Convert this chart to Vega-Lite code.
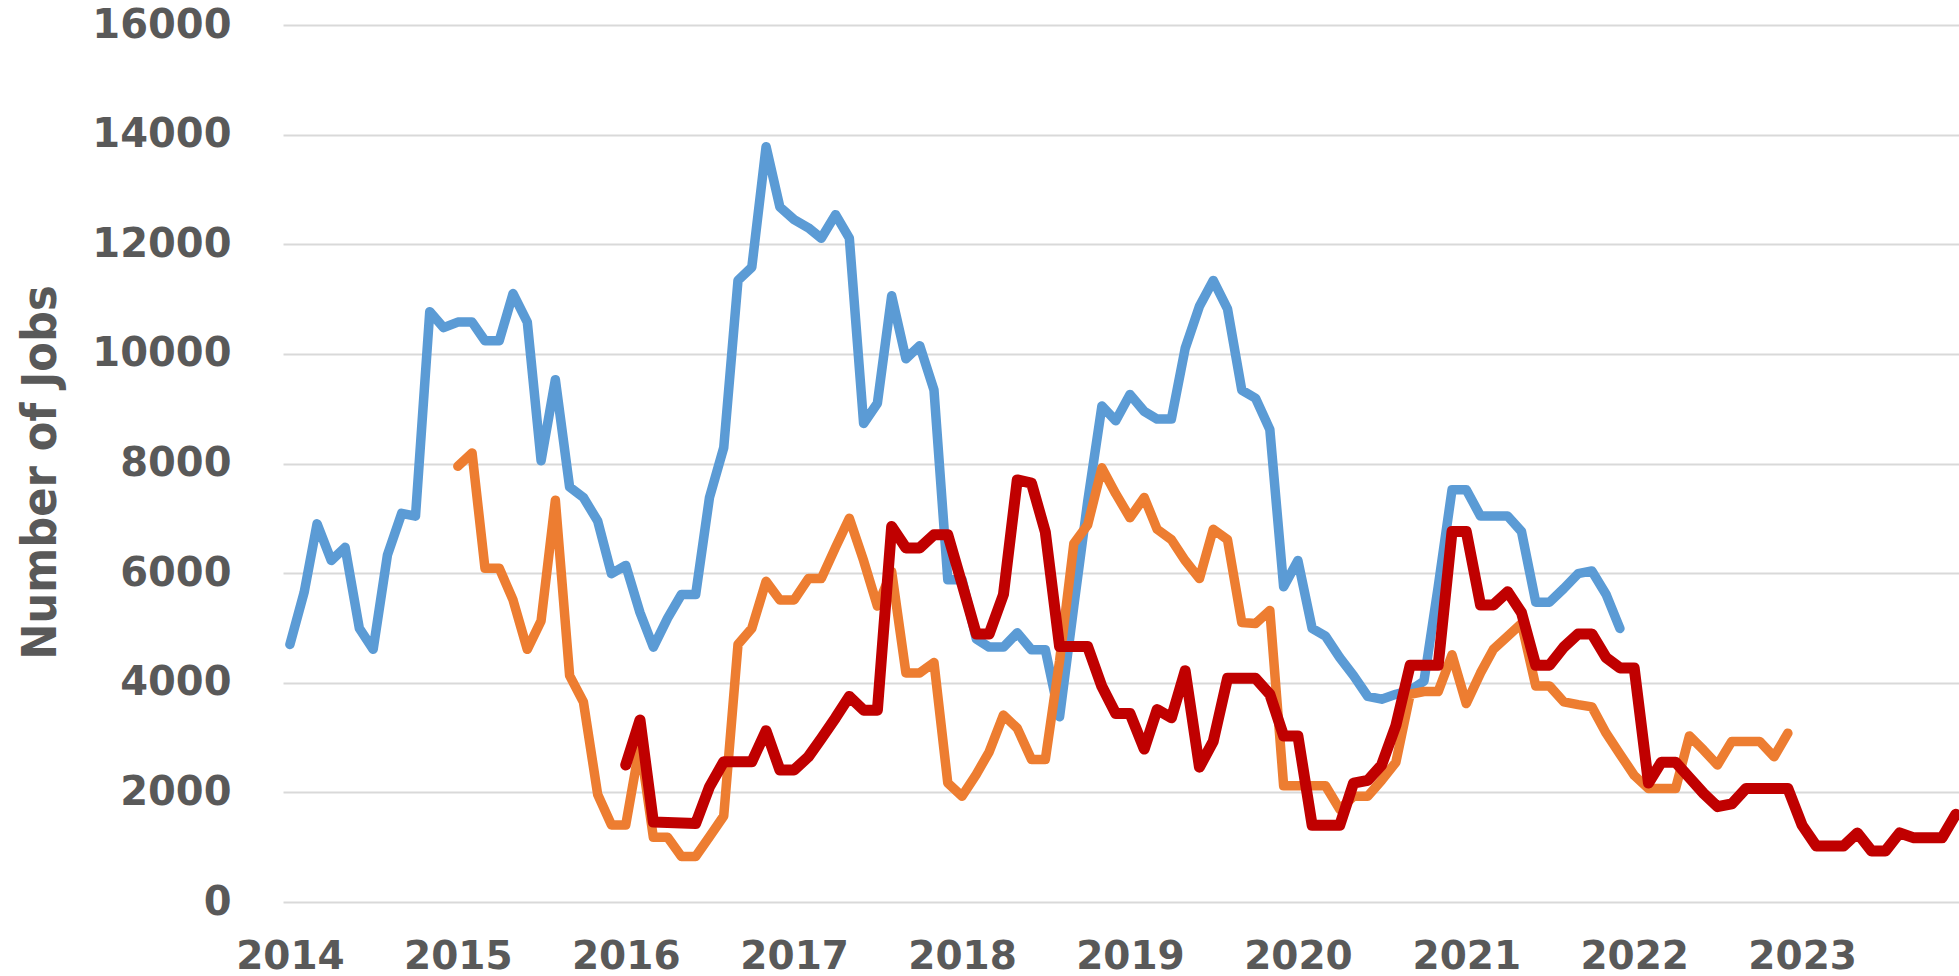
{
  "$schema": "https://vega.github.io/schema/vega-lite/v6.json",
  "width": 1676,
  "height": 877,
  "autosize": {"type": "none"},
  "padding": {"left": 283, "top": 25, "right": 0, "bottom": 74},
  "background": "white",
  "config": {"view": {"stroke": null}},
  "datasets": {
    "blue": [
      {"date": "2014-01-01", "jobs": 4700}, {"date": "2014-02-01", "jobs": 5650}, {"date": "2014-03-01", "jobs": 6900}, {"date": "2014-04-01", "jobs": 6230}, {"date": "2014-05-01", "jobs": 6470}, {"date": "2014-06-01", "jobs": 4990}, {"date": "2014-07-01", "jobs": 4610}, {"date": "2014-08-01", "jobs": 6330}, {"date": "2014-09-01", "jobs": 7090}, {"date": "2014-10-01", "jobs": 7040}, {"date": "2014-11-01", "jobs": 10770}, {"date": "2014-12-01", "jobs": 10480},
      {"date": "2015-01-01", "jobs": 10580}, {"date": "2015-02-01", "jobs": 10580}, {"date": "2015-03-01", "jobs": 10240}, {"date": "2015-04-01", "jobs": 10240}, {"date": "2015-05-01", "jobs": 11100}, {"date": "2015-06-01", "jobs": 10580}, {"date": "2015-07-01", "jobs": 8050}, {"date": "2015-08-01", "jobs": 9530}, {"date": "2015-09-01", "jobs": 7570}, {"date": "2015-10-01", "jobs": 7380}, {"date": "2015-11-01", "jobs": 6950}, {"date": "2015-12-01", "jobs": 5990},
      {"date": "2016-01-01", "jobs": 6140}, {"date": "2016-02-01", "jobs": 5280}, {"date": "2016-03-01", "jobs": 4650}, {"date": "2016-04-01", "jobs": 5180}, {"date": "2016-05-01", "jobs": 5610}, {"date": "2016-06-01", "jobs": 5610}, {"date": "2016-07-01", "jobs": 7380}, {"date": "2016-08-01", "jobs": 8290}, {"date": "2016-09-01", "jobs": 11340}, {"date": "2016-10-01", "jobs": 11580}, {"date": "2016-11-01", "jobs": 13780}, {"date": "2016-12-01", "jobs": 12680},
      {"date": "2017-01-01", "jobs": 12450}, {"date": "2017-02-01", "jobs": 12300}, {"date": "2017-03-01", "jobs": 12110}, {"date": "2017-04-01", "jobs": 12540}, {"date": "2017-05-01", "jobs": 12110}, {"date": "2017-06-01", "jobs": 8730}, {"date": "2017-07-01", "jobs": 9100}, {"date": "2017-08-01", "jobs": 11060}, {"date": "2017-09-01", "jobs": 9910}, {"date": "2017-10-01", "jobs": 10150}, {"date": "2017-11-01", "jobs": 9340}, {"date": "2017-12-01", "jobs": 5880},
      {"date": "2018-01-01", "jobs": 5880}, {"date": "2018-02-01", "jobs": 4800}, {"date": "2018-03-01", "jobs": 4650}, {"date": "2018-04-01", "jobs": 4650}, {"date": "2018-05-01", "jobs": 4910}, {"date": "2018-06-01", "jobs": 4600}, {"date": "2018-07-01", "jobs": 4600}, {"date": "2018-08-01", "jobs": 3380}, {"date": "2018-09-01", "jobs": 5400}, {"date": "2018-10-01", "jobs": 7300}, {"date": "2018-11-01", "jobs": 9050}, {"date": "2018-12-01", "jobs": 8780},
      {"date": "2019-01-01", "jobs": 9260}, {"date": "2019-02-01", "jobs": 8950}, {"date": "2019-03-01", "jobs": 8810}, {"date": "2019-04-01", "jobs": 8810}, {"date": "2019-05-01", "jobs": 10100}, {"date": "2019-06-01", "jobs": 10870}, {"date": "2019-07-01", "jobs": 11340}, {"date": "2019-08-01", "jobs": 10820}, {"date": "2019-09-01", "jobs": 9340}, {"date": "2019-10-01", "jobs": 9190}, {"date": "2019-11-01", "jobs": 8620}, {"date": "2019-12-01", "jobs": 5750},
      {"date": "2020-01-01", "jobs": 6230}, {"date": "2020-02-01", "jobs": 4990}, {"date": "2020-03-01", "jobs": 4850}, {"date": "2020-04-01", "jobs": 4460}, {"date": "2020-05-01", "jobs": 4130}, {"date": "2020-06-01", "jobs": 3750}, {"date": "2020-07-01", "jobs": 3700}, {"date": "2020-08-01", "jobs": 3790}, {"date": "2020-09-01", "jobs": 3860}, {"date": "2020-10-01", "jobs": 4030}, {"date": "2020-11-01", "jobs": 5750}, {"date": "2020-12-01", "jobs": 7520},
      {"date": "2021-01-01", "jobs": 7520}, {"date": "2021-02-01", "jobs": 7040}, {"date": "2021-03-01", "jobs": 7040}, {"date": "2021-04-01", "jobs": 7040}, {"date": "2021-05-01", "jobs": 6760}, {"date": "2021-06-01", "jobs": 5470}, {"date": "2021-07-01", "jobs": 5470}, {"date": "2021-08-01", "jobs": 5720}, {"date": "2021-09-01", "jobs": 5990}, {"date": "2021-10-01", "jobs": 6040}, {"date": "2021-11-01", "jobs": 5610}, {"date": "2021-12-01", "jobs": 4990}
    ],
    "orange": [
      {"date": "2015-01-01", "jobs": 7950}, {"date": "2015-02-01", "jobs": 8190}, {"date": "2015-03-01", "jobs": 6090}, {"date": "2015-04-01", "jobs": 6090}, {"date": "2015-05-01", "jobs": 5510}, {"date": "2015-06-01", "jobs": 4610}, {"date": "2015-07-01", "jobs": 5130}, {"date": "2015-08-01", "jobs": 7330}, {"date": "2015-09-01", "jobs": 4130}, {"date": "2015-10-01", "jobs": 3650}, {"date": "2015-11-01", "jobs": 1960}, {"date": "2015-12-01", "jobs": 1405},
      {"date": "2016-01-01", "jobs": 1405}, {"date": "2016-02-01", "jobs": 2880}, {"date": "2016-03-01", "jobs": 1180}, {"date": "2016-04-01", "jobs": 1180}, {"date": "2016-05-01", "jobs": 830}, {"date": "2016-06-01", "jobs": 830}, {"date": "2016-07-01", "jobs": 1190}, {"date": "2016-08-01", "jobs": 1570}, {"date": "2016-09-01", "jobs": 4700}, {"date": "2016-10-01", "jobs": 4990}, {"date": "2016-11-01", "jobs": 5850}, {"date": "2016-12-01", "jobs": 5510},
      {"date": "2017-01-01", "jobs": 5510}, {"date": "2017-02-01", "jobs": 5900}, {"date": "2017-03-01", "jobs": 5900}, {"date": "2017-04-01", "jobs": 6470}, {"date": "2017-05-01", "jobs": 7000}, {"date": "2017-06-01", "jobs": 6230}, {"date": "2017-07-01", "jobs": 5400}, {"date": "2017-08-01", "jobs": 6030}, {"date": "2017-09-01", "jobs": 4180}, {"date": "2017-10-01", "jobs": 4180}, {"date": "2017-11-01", "jobs": 4370}, {"date": "2017-12-01", "jobs": 2170},
      {"date": "2018-01-01", "jobs": 1930}, {"date": "2018-02-01", "jobs": 2330}, {"date": "2018-03-01", "jobs": 2740}, {"date": "2018-04-01", "jobs": 3410}, {"date": "2018-05-01", "jobs": 3170}, {"date": "2018-06-01", "jobs": 2600}, {"date": "2018-07-01", "jobs": 2600}, {"date": "2018-08-01", "jobs": 4400}, {"date": "2018-09-01", "jobs": 6540}, {"date": "2018-10-01", "jobs": 6880}, {"date": "2018-11-01", "jobs": 7920}, {"date": "2018-12-01", "jobs": 7450},
      {"date": "2019-01-01", "jobs": 7010}, {"date": "2019-02-01", "jobs": 7380}, {"date": "2019-03-01", "jobs": 6800}, {"date": "2019-04-01", "jobs": 6610}, {"date": "2019-05-01", "jobs": 6230}, {"date": "2019-06-01", "jobs": 5900}, {"date": "2019-07-01", "jobs": 6800}, {"date": "2019-08-01", "jobs": 6610}, {"date": "2019-09-01", "jobs": 5100}, {"date": "2019-10-01", "jobs": 5080}, {"date": "2019-11-01", "jobs": 5320}, {"date": "2019-12-01", "jobs": 2120},
      {"date": "2020-01-01", "jobs": 2120}, {"date": "2020-02-01", "jobs": 2120}, {"date": "2020-03-01", "jobs": 2120}, {"date": "2020-04-01", "jobs": 1690}, {"date": "2020-05-01", "jobs": 1930}, {"date": "2020-06-01", "jobs": 1930}, {"date": "2020-07-01", "jobs": 2220}, {"date": "2020-08-01", "jobs": 2550}, {"date": "2020-09-01", "jobs": 3790}, {"date": "2020-10-01", "jobs": 3840}, {"date": "2020-11-01", "jobs": 3840}, {"date": "2020-12-01", "jobs": 4510},
      {"date": "2021-01-01", "jobs": 3620}, {"date": "2021-02-01", "jobs": 4180}, {"date": "2021-03-01", "jobs": 4610}, {"date": "2021-04-01", "jobs": 4850}, {"date": "2021-05-01", "jobs": 5080}, {"date": "2021-06-01", "jobs": 3940}, {"date": "2021-07-01", "jobs": 3940}, {"date": "2021-08-01", "jobs": 3650}, {"date": "2021-09-01", "jobs": 3600}, {"date": "2021-10-01", "jobs": 3560}, {"date": "2021-11-01", "jobs": 3080}, {"date": "2021-12-01", "jobs": 2700},
      {"date": "2022-01-01", "jobs": 2310}, {"date": "2022-02-01", "jobs": 2070}, {"date": "2022-03-01", "jobs": 2070}, {"date": "2022-04-01", "jobs": 2070}, {"date": "2022-05-01", "jobs": 3030}, {"date": "2022-06-01", "jobs": 2770}, {"date": "2022-07-01", "jobs": 2500}, {"date": "2022-08-01", "jobs": 2930}, {"date": "2022-09-01", "jobs": 2930}, {"date": "2022-10-01", "jobs": 2930}, {"date": "2022-11-01", "jobs": 2650}, {"date": "2022-12-01", "jobs": 3080}
    ],
    "red": [
      {"date": "2016-01-01", "jobs": 2500}, {"date": "2016-02-01", "jobs": 3320}, {"date": "2016-03-01", "jobs": 1460}, {"date": "2016-04-01", "jobs": 1450}, {"date": "2016-05-01", "jobs": 1440}, {"date": "2016-06-01", "jobs": 1430}, {"date": "2016-07-01", "jobs": 2100}, {"date": "2016-08-01", "jobs": 2560}, {"date": "2016-09-01", "jobs": 2560}, {"date": "2016-10-01", "jobs": 2560}, {"date": "2016-11-01", "jobs": 3125}, {"date": "2016-12-01", "jobs": 2410},
      {"date": "2017-01-01", "jobs": 2410}, {"date": "2017-02-01", "jobs": 2650}, {"date": "2017-03-01", "jobs": 2980}, {"date": "2017-04-01", "jobs": 3360}, {"date": "2017-05-01", "jobs": 3750}, {"date": "2017-06-01", "jobs": 3500}, {"date": "2017-07-01", "jobs": 3500}, {"date": "2017-08-01", "jobs": 6850}, {"date": "2017-09-01", "jobs": 6460}, {"date": "2017-10-01", "jobs": 6460}, {"date": "2017-11-01", "jobs": 6700}, {"date": "2017-12-01", "jobs": 6700},
      {"date": "2018-01-01", "jobs": 5800}, {"date": "2018-02-01", "jobs": 4890}, {"date": "2018-03-01", "jobs": 4890}, {"date": "2018-04-01", "jobs": 5610}, {"date": "2018-05-01", "jobs": 7700}, {"date": "2018-06-01", "jobs": 7640}, {"date": "2018-07-01", "jobs": 6750}, {"date": "2018-08-01", "jobs": 4660}, {"date": "2018-09-01", "jobs": 4660}, {"date": "2018-10-01", "jobs": 4660}, {"date": "2018-11-01", "jobs": 3930}, {"date": "2018-12-01", "jobs": 3440},
      {"date": "2019-01-01", "jobs": 3440}, {"date": "2019-02-01", "jobs": 2790}, {"date": "2019-03-01", "jobs": 3510}, {"date": "2019-04-01", "jobs": 3360}, {"date": "2019-05-01", "jobs": 4220}, {"date": "2019-06-01", "jobs": 2460}, {"date": "2019-07-01", "jobs": 2930}, {"date": "2019-08-01", "jobs": 4080}, {"date": "2019-09-01", "jobs": 4080}, {"date": "2019-10-01", "jobs": 4080}, {"date": "2019-11-01", "jobs": 3790}, {"date": "2019-12-01", "jobs": 3030},
      {"date": "2020-01-01", "jobs": 3030}, {"date": "2020-02-01", "jobs": 1400}, {"date": "2020-03-01", "jobs": 1400}, {"date": "2020-04-01", "jobs": 1400}, {"date": "2020-05-01", "jobs": 2170}, {"date": "2020-06-01", "jobs": 2220}, {"date": "2020-07-01", "jobs": 2500}, {"date": "2020-08-01", "jobs": 3220}, {"date": "2020-09-01", "jobs": 4320}, {"date": "2020-10-01", "jobs": 4320}, {"date": "2020-11-01", "jobs": 4320}, {"date": "2020-12-01", "jobs": 6760},
      {"date": "2021-01-01", "jobs": 6760}, {"date": "2021-02-01", "jobs": 5420}, {"date": "2021-03-01", "jobs": 5420}, {"date": "2021-04-01", "jobs": 5660}, {"date": "2021-05-01", "jobs": 5280}, {"date": "2021-06-01", "jobs": 4320}, {"date": "2021-07-01", "jobs": 4320}, {"date": "2021-08-01", "jobs": 4650}, {"date": "2021-09-01", "jobs": 4890}, {"date": "2021-10-01", "jobs": 4890}, {"date": "2021-11-01", "jobs": 4460}, {"date": "2021-12-01", "jobs": 4270},
      {"date": "2022-01-01", "jobs": 4270}, {"date": "2022-02-01", "jobs": 2170}, {"date": "2022-03-01", "jobs": 2550}, {"date": "2022-04-01", "jobs": 2550}, {"date": "2022-05-01", "jobs": 2270}, {"date": "2022-06-01", "jobs": 1980}, {"date": "2022-07-01", "jobs": 1740}, {"date": "2022-08-01", "jobs": 1790}, {"date": "2022-09-01", "jobs": 2070}, {"date": "2022-10-01", "jobs": 2070}, {"date": "2022-11-01", "jobs": 2070}, {"date": "2022-12-01", "jobs": 2070},
      {"date": "2023-01-01", "jobs": 1400}, {"date": "2023-02-01", "jobs": 1020}, {"date": "2023-03-01", "jobs": 1020}, {"date": "2023-04-01", "jobs": 1020}, {"date": "2023-05-01", "jobs": 1260}, {"date": "2023-06-01", "jobs": 930}, {"date": "2023-07-01", "jobs": 930}, {"date": "2023-08-01", "jobs": 1260}, {"date": "2023-09-01", "jobs": 1170}, {"date": "2023-10-01", "jobs": 1170}, {"date": "2023-11-01", "jobs": 1170}, {"date": "2023-12-01", "jobs": 1600}
    ]
  },
  "encoding": {
    "x": {
      "field": "date",
      "type": "temporal",
      "scale": {
        "type": "utc",
        "domain": [{"year": 2013, "month": 12, "date": 17, "utc": true}, {"year": 2023, "month": 12, "date": 8, "utc": true}]
      },
      "axis": {
        "title": null,
        "format": "%Y",
        "values": [
          {"year": 2014, "utc": true}, {"year": 2015, "utc": true}, {"year": 2016, "utc": true}, {"year": 2017, "utc": true}, {"year": 2018, "utc": true},
          {"year": 2019, "utc": true}, {"year": 2020, "utc": true}, {"year": 2021, "utc": true}, {"year": 2022, "utc": true}, {"year": 2023, "utc": true}
        ],
        "grid": false,
        "domain": false,
        "ticks": false,
        "labelFlush": false,
        "labelOverlap": false,
        "labelPadding": 35,
        "labelFont": "DejaVu Sans",
        "labelFontWeight": "bold",
        "labelFontSize": 39,
        "labelColor": "#595959"
      }
    },
    "y": {
      "field": "jobs",
      "type": "quantitative",
      "scale": {"domain": [0, 16000], "nice": false},
      "axis": {
        "title": "Number of Jobs",
        "values": [0, 2000, 4000, 6000, 8000, 10000, 12000, 14000, 16000],
        "format": "d",
        "grid": true,
        "gridColor": "#d9d9d9",
        "gridWidth": 2,
        "domain": false,
        "ticks": false,
        "labelPadding": 52,
        "labelFont": "DejaVu Sans",
        "labelFontWeight": "bold",
        "labelFontSize": 40,
        "labelColor": "#595959",
        "titleFont": "DejaVu Sans Condensed",
        "titleFontWeight": "bold",
        "titleFontSize": 48,
        "titleColor": "#595959",
        "titleAngle": 270,
        "titleAlign": "center",
        "titleBaseline": "middle",
        "titleX": -242,
        "titleY": 447
      }
    }
  },
  "layer": [
    {
      "data": {"name": "blue"},
      "mark": {"type": "line", "color": "#5B9BD5", "strokeWidth": 9.5, "strokeCap": "round", "strokeJoin": "round"}
    },
    {
      "data": {"name": "orange"},
      "mark": {"type": "line", "color": "#ED7D31", "strokeWidth": 9.5, "strokeCap": "round", "strokeJoin": "round"}
    },
    {
      "data": {"name": "red"},
      "mark": {"type": "line", "color": "#C00000", "strokeWidth": 11, "strokeCap": "round", "strokeJoin": "round"}
    }
  ]
}
